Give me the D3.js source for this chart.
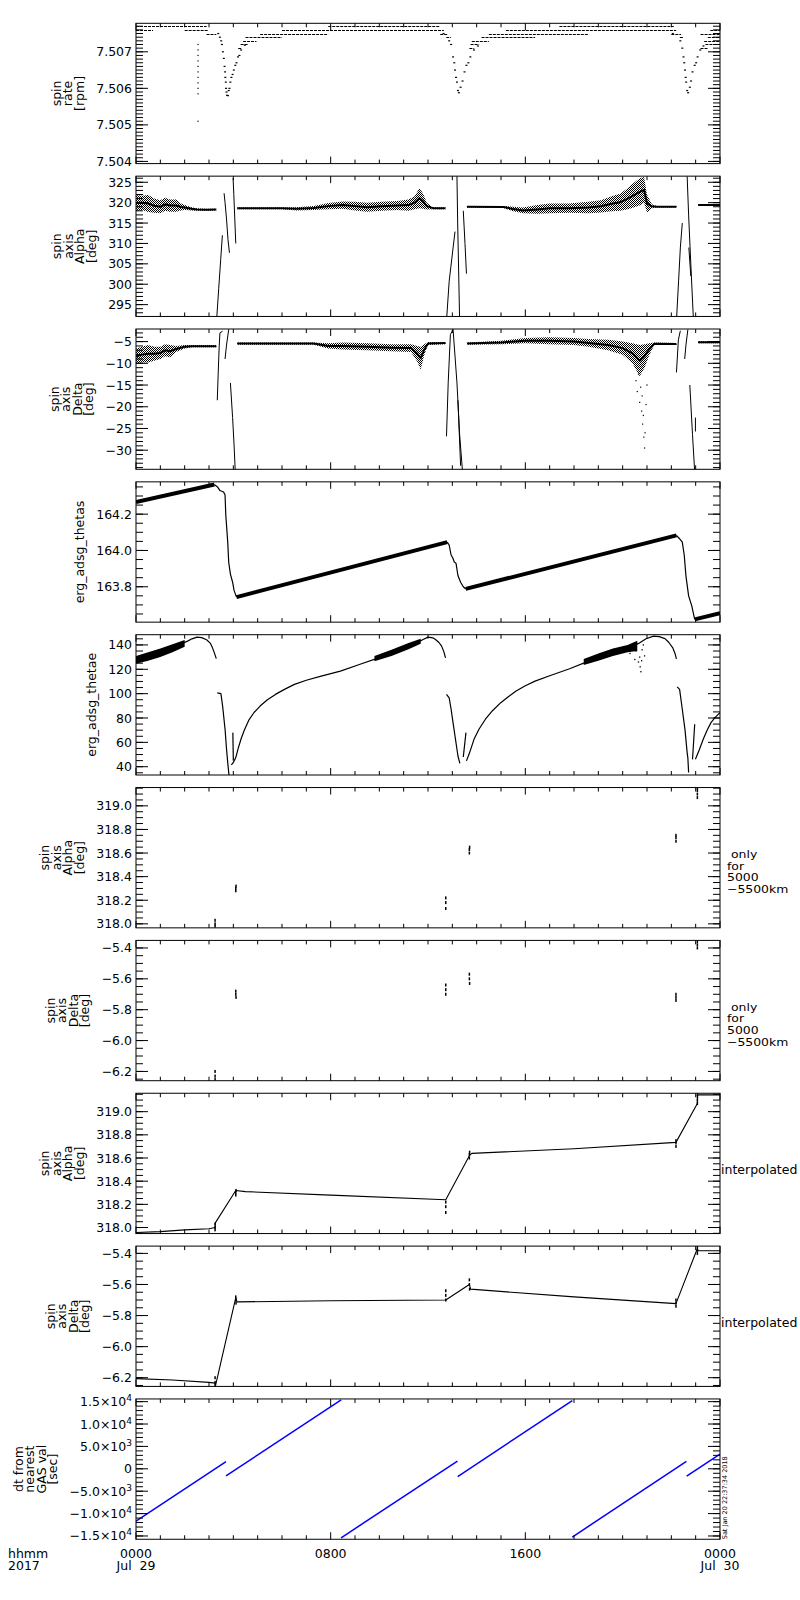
<!DOCTYPE html>
<html>
<head>
<meta charset="utf-8">
<script src="https://cdn.jsdelivr.net/npm/d3@7"></script>
<style>
body { margin: 0; background: #fff; }
text { font-family: "DejaVu Sans", sans-serif; font-size: 12.5px; fill: #000; }
</style>
</head>
<body>
<div id="chart"></div>
<script>
// ---- axis text ----
const labelHours = [0, 8, 16, 24];
const timeLabels = ["0000", "0800", "1600", "0000"];
const dateLabels = ["Jul\u00a0\u00a029", "", "", "Jul\u00a0\u00a030"];

const panelTitles = [
	["spin", "rate", "[rpm]"],
	["spin", "axis", "Alpha", "[deg]"],
	["spin", "axis", "Delta", "[deg]"],
	["erg_adsg_thetas"],
	["erg_adsg_thetae"],
	["spin", "axis", "Alpha", "[deg]"],
	["spin", "axis", "Delta", "[deg]"],
	["spin", "axis", "Alpha", "[deg]"],
	["spin", "axis", "Delta", "[deg]"],
	["dt from", "nearest", "GAS val", "[sec]"],
];
const yDomains = [
	[7.50394, 7.50778], [292.1, 326.5], [-34.4, -2.1], [163.605, 164.378], [33.2, 148.4],
	[317.966, 319.155], [-6.26, -5.351], [317.948, 319.159], [-6.256, -5.353], [-15730, 15600],
];
const yMajor = [0.001, 5, 5, 0.2, 20, 0.2, 0.2, 0.2, 0.2, 5000];
const yMinor = [0.0001, 1, 1, 0.05, 5, 0.05, 0.05, 0.05, 0.05, 1000];
const yFormats = [".3f", "d", "d", ".1f", "d", ".1f", ".1f", ".1f", ".1f", "exp"];
const onlyNote = ["\u00a0only", "for", "5000", "\u22125500km"];
const interpNote = "interpolated";
const stamp = "Sat Jan 20 22:37:34 2018";

// ---- spin rate [rpm] : quantised rows [t0, t1, value] ----
const rateLevels = [
	[0, 2.9, 7.5077], [7.9, 12.5, 7.5077], [17.4, 22.1, 7.5077],
	[0, 0.7, 7.5076], [2.0, 2.95, 7.5076], [6.0, 12.65, 7.5076], [15.2, 22.2, 7.5076], [23.6, 24, 7.5076],
	[2.9, 3.3, 7.5075], [5.1, 7.9, 7.5075], [12.5, 12.8, 7.5075], [14.5, 18.6, 7.5075], [22.0, 22.4, 7.5075], [23.2, 24, 7.5075],
	[4.5, 6.0, 7.5074], [12.75, 12.95, 7.5074], [14.2, 16.4, 7.5074], [22.35, 22.5, 7.5074], [23.5, 24, 7.5074],
	[4.4, 4.95, 7.5073], [13.8, 14.5, 7.5073], [23.35, 24, 7.5073],
	[4.3, 4.6, 7.5072], [13.75, 14.1, 7.5072], [23.4, 24, 7.5072],
	[4.2, 4.35, 7.5071], [13.7, 13.9, 7.5071], [23.2, 23.5, 7.5071],
];
const rateColumn = [
	[2.55, 7.5072], [2.55, 7.50705], [2.55, 7.5069], [2.55, 7.50675], [2.55, 7.5066], [2.55, 7.50645],
	[2.55, 7.5063], [2.55, 7.50615], [2.55, 7.506], [2.55, 7.50585], [2.55, 7.5051],
];
const rateDips = [
	[3.38, 7.5075], [3.45, 7.5074], [3.5, 7.5073], [3.53, 7.5072], [3.57, 7.507], [3.61, 7.50682], [3.64, 7.5066],
	[3.66, 7.50645], [3.67, 7.5063], [3.69, 7.50617], [3.7, 7.506], [3.72, 7.5059], [3.74, 7.50581],
	[3.78, 7.5058], [3.81, 7.50594], [3.84, 7.506], [3.88, 7.50617], [3.92, 7.5063], [3.97, 7.50638],
	[4.02, 7.5065], [4.08, 7.50663], [4.13, 7.5067], [4.19, 7.50686], [4.25, 7.5069], [4.32, 7.50705], [4.47, 7.50718],
	[12.64, 7.5075], [12.87, 7.5073], [12.95, 7.5072], [13.03, 7.50686], [13.08, 7.5067], [13.11, 7.5065],
	[13.15, 7.5063], [13.19, 7.50617], [13.23, 7.50594], [13.27, 7.50588], [13.34, 7.50603], [13.42, 7.5062],
	[13.5, 7.50645], [13.58, 7.50663], [13.66, 7.5067], [13.74, 7.50686], [13.89, 7.50705], [14.05, 7.50716],
	[22.06, 7.5075], [22.37, 7.5073], [22.45, 7.5071], [22.5, 7.50686], [22.53, 7.5067], [22.56, 7.5065],
	[22.59, 7.5063], [22.61, 7.50617], [22.65, 7.50594], [22.69, 7.50588], [22.76, 7.50603], [22.81, 7.5062],
	[22.87, 7.50645], [22.96, 7.50663], [23.02, 7.5067], [23.08, 7.50686], [23.19, 7.50705], [23.32, 7.50716],
];

// ---- spin axis Alpha [deg] : scatter envelopes [t, low, high] and flip tracks ----
const alphaBands = [
	[[0, 317.9, 321.9], [0.25, 318.2, 321.7], [0.5, 317.7, 321.9], [0.75, 317.5, 321], [1.0, 317.4, 320.6],
	 [1.2, 318, 321.2], [1.4, 317.8, 320.8], [1.65, 317.8, 320.8], [1.85, 318.1, 319.8], [2.0, 318.2, 319.4],
	 [2.28, 318.1, 318.9], [2.5, 318.0, 318.6], [2.9, 318.0, 318.5], [3.3, 318.1, 318.5]],
	[[4.16, 318.4, 318.8], [6.0, 318.4, 318.8], [6.6, 318.1, 318.9], [7.3, 318.2, 319.2], [7.9, 318.4, 319.9],
	 [8.5, 318.5, 320.3], [9.0, 318.1, 320.2], [9.5, 317.8, 320.0], [10.1, 318.0, 320.2], [10.75, 318.2, 320.4],
	 [11.2, 318.0, 320.8], [11.45, 318.4, 321.6], [11.65, 318.6, 323.6], [11.8, 318.5, 322.2], [11.95, 318.3, 320.0],
	 [12.2, 318.4, 318.9], [12.72, 318.4, 318.8]],
	[[13.6, 318.8, 319.2], [15.1, 318.7, 319.2], [15.5, 317.9, 319.0], [15.9, 317.4, 318.8], [16.5, 317.3, 319.4],
	 [17.0, 317.4, 319.8], [17.8, 317.5, 319.8], [18.6, 317.4, 320.2], [19.1, 317.6, 320.6], [19.55, 317.9, 321.6],
	 [19.9, 318.0, 322.2], [20.17, 318.3, 323.4], [20.45, 318.8, 324.8], [20.7, 319.3, 326.0], [20.88, 320.0, 326.3],
	 [21.0, 317.6, 322], [21.2, 318.6, 319.6], [21.4, 318.8, 319.2], [22.21, 318.8, 319.2]],
	[[23.1, 319.2, 319.6], [24, 319.2, 319.6]],
];
const alphaFlips = [
	[[3.31, 291], [3.4, 299], [3.48, 306], [3.55, 312]],
	[[3.62, 322.3], [3.66, 320], [3.72, 316], [3.78, 311], [3.84, 307.7]],
	[[3.99, 326], [4.02, 322], [4.06, 316], [4.1, 310]],
	[[12.76, 291], [12.87, 300.7], [13.03, 308.9], [13.11, 312.9]],
	[[13.19, 326.5], [13.22, 315], [13.26, 303], [13.3, 291]],
	[[13.45, 318], [13.52, 310], [13.58, 302.6]],
	[[22.21, 291], [22.3, 301], [22.37, 308.9], [22.45, 315]],
	[[22.65, 326.5], [22.71, 317], [22.8, 305], [22.91, 291]],
	[[22.72, 309], [22.8, 302]],
];

// ---- spin axis Delta [deg] ----
const deltaBands = [
	[[0, -10.2, -6.6], [0.25, -9.8, -6.2], [0.5, -9.8, -5.8], [0.75, -9.4, -6.2], [1.0, -9.0, -6.2],
	 [1.2, -8.4, -5.6], [1.4, -8.6, -5.8], [1.65, -7.4, -6.0], [2.0, -6.6, -5.8], [2.3, -6.3, -5.8], [3.3, -6.3, -5.8]],
	[[4.16, -5.7, -5.2], [7.3, -5.7, -5.2], [7.9, -6.6, -5.4], [8.5, -6.8, -5.2], [9.5, -7.0, -5.4],
	 [10.5, -7.2, -5.6], [11.3, -7.4, -5.6], [11.55, -9.5, -6.0], [11.7, -11.4, -6.2], [11.85, -8.0, -5.6],
	 [12.0, -5.8, -5.1], [12.72, -5.6, -5.1]],
	[[13.6, -5.7, -5.2], [15.0, -5.6, -4.8], [16.0, -5.4, -4.2], [17.0, -5.6, -4.0], [18.0, -5.8, -4.2],
	 [18.6, -6.2, -4.4], [19.4, -7.0, -4.6], [20.0, -8.0, -5.0], [20.4, -10, -5.4], [20.7, -13, -5.8],
	 [20.9, -11, -5.6], [21.1, -8, -5.4], [21.3, -5.8, -5.2], [22.21, -5.8, -5.3]],
	[[23.1, -5.4, -4.9], [24, -5.4, -4.9]],
];
const deltaScatter = [
	[20.55, -14], [20.6, -16.5], [20.65, -12.5], [20.7, -19], [20.74, -15.5], [20.78, -21], [20.8, -17.5],
	[20.82, -24], [20.85, -22], [20.87, -27], [20.9, -29.5], [20.92, -26], [20.96, -19.5], [21.0, -15],
];
const deltaFlips = [
	[[3.34, -18.5], [3.38, -12], [3.42, -6], [3.45, -3.0], [3.56, -2.6]],
	[[3.81, -2.2], [3.72, -5.8], [3.66, -9.0]],
	[[3.88, -14.5], [3.97, -22.5], [4.03, -28.8], [4.08, -35]],
	[[12.76, -26.8], [12.83, -14.5], [12.92, -3.4], [13.03, -2.2]],
	[[13.03, -2.2], [13.19, -14.5], [13.3, -26.4], [13.42, -35]],
	[[13.23, -18.5], [13.34, -33.6]],
	[[22.21, -12.1], [22.29, -4.6], [22.37, -2.5]],
	[[22.68, -2.2], [22.6, -5.8], [22.55, -9.0]],
	[[22.76, -15], [22.87, -26.4], [22.96, -35]],
	[[22.99, -22.5], [22.99, -25.7]],
];

// ---- erg_adsg_thetas ----
const thetasRamps = [
	[[0, 164.267], [3.22, 164.363]],
	[[4.13, 163.743], [12.79, 164.046]],
	[[13.55, 163.788], [22.21, 164.083]],
	[[22.96, 163.62], [24, 163.655]],
];
const thetasFalls = [
	[[3.22, 164.363], [3.35, 164.35], [3.45, 164.33], [3.6, 164.322], [3.66, 164.305], [3.69, 164.195],
	 [3.77, 164.046], [3.81, 163.935], [3.88, 163.87], [3.97, 163.825], [4.03, 163.78], [4.13, 163.743]],
	[[12.79, 164.046], [12.87, 164.03], [12.95, 163.975], [13.02, 163.958], [13.08, 163.936], [13.15, 163.93],
	 [13.23, 163.862], [13.34, 163.825], [13.45, 163.8], [13.55, 163.788]],
	[[22.21, 164.083], [22.3, 164.07], [22.37, 164.06], [22.45, 164.046], [22.53, 163.975], [22.6, 163.86],
	 [22.71, 163.75], [22.84, 163.695], [22.96, 163.62]],
];

// ---- erg_adsg_thetae ----
const thetaeArcs = [
	[[0, 128], [0.5, 130.5], [1.0, 133.5], [1.33, 136.2], [1.7, 139.5], [2.12, 143.1], [2.3, 145], [2.51, 146.4],
	 [2.7, 146], [2.9, 144.3], [3.05, 141.5], [3.14, 137.8], [3.22, 133.5], [3.3, 128.8]],
	[[3.34, 100.7], [3.49, 100], [3.56, 89.8], [3.66, 70.8], [3.72, 54.5], [3.77, 43.4], [3.81, 35.2], [3.83, 32]],
	[[3.98, 68], [4.0, 45]],
	[[3.92, 41.5], [4.0, 43.5], [4.1, 47.5], [4.2, 55], [4.32, 63], [4.45, 70], [4.63, 78], [4.85, 84.5],
	 [5.1, 89.8], [5.4, 95], [5.73, 99.4], [6.1, 103.5], [6.51, 107.6], [7.0, 111], [7.61, 114.4], [8.4, 118.5],
	 [9.18, 123.9], [9.97, 129.4], [10.75, 134.9], [11.54, 141.7], [11.8, 144.5], [12.0, 146.4], [12.2, 145.8],
	 [12.32, 144.3], [12.45, 142], [12.56, 139], [12.65, 134.5], [12.72, 129.4]],
	[[12.76, 99.4], [12.87, 96.6], [12.95, 87.2], [13.03, 76], [13.11, 65.2], [13.23, 48.8], [13.31, 42.8]],
	[[13.45, 48], [13.56, 68]],
	[[13.58, 44.8], [13.7, 51], [13.89, 62.5], [14.1, 71], [14.36, 79], [14.65, 86], [14.99, 92.6], [15.3, 97.5],
	 [15.62, 102.1], [16.0, 106.5], [16.4, 110.3], [17.03, 114.9], [17.82, 120.4], [18.6, 126.7], [19.39, 132.2],
	 [20.17, 137.6], [20.64, 141], [20.96, 145.1], [21.27, 147.2], [21.5, 146.8], [21.74, 145.2], [21.9, 142],
	 [22.06, 137.6], [22.15, 133], [22.21, 128.6]],
	[[22.24, 105.6], [22.34, 103.5], [22.45, 87.2], [22.56, 70.7], [22.65, 51.6], [22.68, 47], [22.71, 35.2]],
	[[22.87, 46], [22.96, 74.8]],
	[[22.99, 46.1], [23.15, 54], [23.31, 62.5], [23.47, 70], [23.63, 76.2], [23.8, 80.5], [24, 84.3]],
];
const thetaeBands = [
	[[0, 124.5, 131], [0.5, 127, 134], [1.0, 130, 137], [1.5, 134, 140.5], [2.0, 138.5, 144]],
	[[9.8, 126.5, 131], [10.5, 131, 136], [11.2, 136.5, 141.5], [11.7, 141, 145]],
	[[18.4, 123.5, 128.5], [19.0, 127, 133], [19.6, 131, 137], [20.2, 134, 140], [20.6, 135, 143.5]],
];
const thetaeScatter = [
	[20.3, 133], [20.4, 139], [20.5, 128], [20.55, 135], [20.6, 141], [20.65, 126], [20.7, 130],
	[20.72, 122], [20.75, 118], [20.78, 127], [20.8, 136], [20.85, 140], [20.9, 131],
];

// ---- 5000-5500 km samples and interpolated tracks ----
const alphaOnly = [
	[3.25, 317.98], [3.25, 318.0], [3.25, 318.03], [4.1, 318.28], [4.1, 318.3], [4.11, 318.32],
	[12.73, 318.13], [12.73, 318.18], [12.73, 318.22], [13.7, 318.6], [13.7, 318.63], [13.71, 318.65],
	[22.19, 318.7], [22.19, 318.73], [22.19, 318.75], [23.07, 319.07], [23.07, 319.1], [23.07, 319.13], [23.07, 319.15],
];
const deltaOnly = [
	[3.25, -6.2], [3.25, -6.23], [3.25, -6.25], [4.1, -5.68], [4.1, -5.7], [4.11, -5.72],
	[12.73, -5.64], [12.73, -5.67], [12.73, -5.7], [13.7, -5.57], [13.7, -5.6], [13.71, -5.63],
	[22.19, -5.7], [22.19, -5.72], [22.19, -5.74], [23.07, -5.36], [23.07, -5.38], [23.07, -5.4],
];
const alphaInterp = [
	[0, 317.957], [1.0, 317.965], [2.0, 317.98], [3.0, 317.99], [3.25, 318.0], [3.26, 318.04], [4.1, 318.32],
	[4.5, 318.31], [8.0, 318.28], [12.73, 318.24], [13.7, 318.62], [13.8, 318.64], [18.0, 318.68],
	[22.19, 318.735], [23.07, 319.07], [23.08, 319.145], [24, 319.145],
];
const deltaInterp = [
	[0, -6.206], [1.5, -6.215], [3.0, -6.23], [3.25, -6.235], [3.27, -6.25], [4.1, -5.684], [4.15, -5.712],
	[8.0, -5.705], [12.73, -5.7], [13.7, -5.6], [13.75, -5.63], [18.0, -5.68], [22.19, -5.723],
	[23.07, -5.368], [23.1, -5.383], [24, -5.383],
];

// ---- dt from nearest GAS val [sec] : straight runs ----
const dtStart = [[0, -11700], [3.70, -1590], [8.43, -15400], [13.22, -1730], [17.93, -15230], [22.63, -1650]];
const dtEnd = [[3.70, 1620], [8.43, 15400], [13.21, 1730], [17.93, 15230], [22.62, 1650], [24, 3300]];

// ---------------------------------------------------------------
const width = 800;
const height = 1600;
const left = 136;
const right = 720;
const firstTop = 23.3;
const pitch = 152.85;
const panelH = 140.3;

const x = d3.scaleLinear().domain([0, 24]).range([left, right]);

const svg = d3.select("#chart")
	.append("svg")
	.attr("width", width)
	.attr("height", height)
	.attr("viewBox", `0 0 ${width} ${height}`);

svg.append("rect").attr("width", width).attr("height", height).attr("fill", "#fff");

const defs = svg.append("defs");
// dense checker speckle for scattered-sample clouds
defs.append("pattern")
	.attr("id", "speck")
	.attr("width", 2)
	.attr("height", 2)
	.attr("patternUnits", "userSpaceOnUse")
	.selectAll("rect")
	.data([[0, 0], [1, 1]])
	.join("rect")
	.attr("x", (d) => d[0])
	.attr("y", (d) => d[1])
	.attr("width", 1)
	.attr("height", 1)
	.attr("fill", "#000");

function stepTicks(dom, step) {
	const out = [];
	const k0 = Math.ceil(dom[0] / step - 1e-6);
	const k1 = Math.floor(dom[1] / step + 1e-6);
	for (let k = k0; k <= k1; k++) out.push(+(k * step).toPrecision(10));
	return out;
}

// draw helpers
function track(g, y, pts, w, color = "#000") {
	g.append("path")
		.datum(pts)
		.attr("fill", "none")
		.attr("stroke", color)
		.attr("stroke-width", w)
		.attr("stroke-linejoin", "round")
		.attr("d", d3.line().x((d) => x(d[0])).y((d) => y(d[1])));
}

function envelope(g, y, rows, fill) {
	g.append("path")
		.datum(rows)
		.attr("fill", fill)
		.attr("stroke", "none")
		.attr("d", d3.area().x((d) => x(d[0])).y0((d) => y(d[1])).y1((d) => y(d[2])));
}

function specks(g, y, pts, w, h) {
	g.selectAll(null)
		.data(pts)
		.enter()
		.append("rect")
		.attr("x", (d) => x(d[0]) - w / 2)
		.attr("y", (d) => y(d[1]) - h / 2)
		.attr("width", w)
		.attr("height", h)
		.attr("fill", "#000");
}

function noisyBand(g, y, rows) {
	envelope(g, y, rows, "url(#speck)");
	track(g, y, rows.map((r) => [r[0], (r[1] + r[2]) / 2]), 2);
}

const drawers = [
	(g, y) => {
		g.selectAll(null)
			.data(rateLevels)
			.enter()
			.append("line")
			.attr("x1", (d) => x(d[0]))
			.attr("x2", (d) => x(d[1]))
			.attr("y1", (d) => Math.round(y(d[2])) + 0.5)
			.attr("y2", (d) => Math.round(y(d[2])) + 0.5)
			.attr("stroke", "#000")
			.attr("stroke-width", 1)
			.attr("stroke-dasharray", "3 1");
		specks(g, y, rateColumn, 1.2, 1.2);
		specks(g, y, rateDips, 2, 1.2);
	},
	(g, y) => {
		alphaBands.forEach((b) => noisyBand(g, y, b));
		alphaFlips.forEach((f) => track(g, y, f, 1));
	},
	(g, y) => {
		deltaBands.forEach((b) => noisyBand(g, y, b));
		deltaFlips.forEach((f) => track(g, y, f, 1));
		specks(g, y, deltaScatter, 1.2, 1.2);
	},
	(g, y) => {
		thetasRamps.forEach((r) => track(g, y, r, 4));
		thetasFalls.forEach((f) => track(g, y, f, 1.2));
	},
	(g, y) => {
		thetaeBands.forEach((b) => envelope(g, y, b, "#000"));
		thetaeArcs.forEach((a) => track(g, y, a, 1.2));
		specks(g, y, thetaeScatter, 1.3, 1.3);
	},
	(g, y) => specks(g, y, alphaOnly, 1.5, 3),
	(g, y) => specks(g, y, deltaOnly, 1.5, 3),
	(g, y) => {
		track(g, y, alphaInterp, 1.1);
		specks(g, y, alphaOnly, 1.5, 3);
	},
	(g, y) => {
		track(g, y, deltaInterp, 1.1);
		specks(g, y, deltaOnly, 1.5, 3);
	},
	(g, y) => {
		dtStart.forEach((s, i) => track(g, y, [s, dtEnd[i]], 1.5, "#0000ff"));
	},
];

function writeExp(textSel, v) {
	if (v === 0) {
		textSel.text("0");
		return;
	}
	const e = Math.floor(Math.log10(Math.abs(v)));
	const m = v / Math.pow(10, e);
	textSel.text(d3.format(".1f")(m) + "\u00d710");
	textSel.append("tspan").attr("font-size", "9px").attr("dy", "-5").text(e);
}

panelTitles.forEach((title, i) => {
	const top = firstTop + i * pitch;
	const bottom = top + panelH;
	const y = d3.scaleLinear().domain(yDomains[i]).range([bottom, top]);
	const g = svg.append("g").attr("class", "panel");

	defs.append("clipPath")
		.attr("id", `clip${i}`)
		.append("rect")
		.attr("x", left)
		.attr("y", top)
		.attr("width", right - left)
		.attr("height", panelH);

	const plot = g.append("g").attr("clip-path", `url(#clip${i})`);
	drawers[i](plot, y);

	// frame
	g.append("rect")
		.attr("x", left)
		.attr("y", top)
		.attr("width", right - left)
		.attr("height", panelH)
		.attr("fill", "none")
		.attr("stroke", "#000")
		.attr("stroke-width", 1);

	const ticks = g.append("g").attr("stroke", "#000").attr("stroke-width", 1);

	// hourly time ticks, top and bottom
	d3.range(0, 25).forEach((h) => {
		const len = h % 8 === 0 ? 7 : 4;
		ticks.append("line").attr("x1", x(h)).attr("x2", x(h)).attr("y1", top).attr("y2", top + len);
		ticks.append("line").attr("x1", x(h)).attr("x2", x(h)).attr("y1", bottom).attr("y2", bottom - len);
	});

	// value ticks, left and right
	const majors = stepTicks(yDomains[i], yMajor[i]);
	const minors = stepTicks(yDomains[i], yMinor[i]);
	minors.forEach((v) => {
		const yy = y(v);
		ticks.append("line").attr("x1", left).attr("x2", left + 7).attr("y1", yy).attr("y2", yy);
		ticks.append("line").attr("x1", right).attr("x2", right - 7).attr("y1", yy).attr("y2", yy);
	});
	majors.forEach((v) => {
		const yy = y(v);
		ticks.append("line").attr("x1", left).attr("x2", left + 12).attr("y1", yy).attr("y2", yy);
		ticks.append("line").attr("x1", right).attr("x2", right - 12).attr("y1", yy).attr("y2", yy);
	});

	const labels = g.append("g");
	majors.forEach((v) => {
		const t = labels.append("text")
			.attr("x", left - 4)
			.attr("y", y(v))
			.attr("dy", "0.36em")
			.attr("text-anchor", "end");
		if (yFormats[i] === "exp") writeExp(t, v);
		else t.text(d3.format(yFormats[i])(v));
	});

	// axis title, rotated, lines stacked left to right
	const tickLeft = labels.node().getBBox().x;
	const cy = (top + bottom) / 2;
	const lastBase = tickLeft - 12.5;
	title.forEach((line, j) => {
		const bx = lastBase - (title.length - 1 - j) * 11.5;
		g.append("text")
			.attr("transform", `translate(${bx},${cy}) rotate(-90)`)
			.attr("text-anchor", "middle")
			.text(line);
	});

	// side notes: short glyphs stretched sideways so stacked lines stay clear
	if (i === 5 || i === 6) {
		onlyNote.forEach((line, j) => {
			g.append("text")
				.attr("transform", `translate(727,${cy + j * 11.8}) scale(1.22,1)`)
				.style("font-size", "10.2px")
				.text(line);
		});
	}
	if (i === 7 || i === 8) {
		g.append("text").attr("x", 721).attr("y", cy + 11).text(interpNote);
	}
	if (i === 9) {
		g.append("text")
			.attr("transform", `translate(727,${bottom}) rotate(-90)`)
			.style("font-size", "6.5px")
			.text(stamp);
	}
});

// time labels under the last panel
labelHours.forEach((h, k) => {
	svg.append("text").attr("x", x(h)).attr("y", 1557.5).attr("text-anchor", "middle").text(timeLabels[k]);
	if (dateLabels[k]) {
		svg.append("text").attr("x", x(h)).attr("y", 1569.5).attr("text-anchor", "middle").text(dateLabels[k]);
	}
});
svg.append("text").attr("x", 8).attr("y", 1557.5).text("hhmm");
svg.append("text").attr("x", 8).attr("y", 1569.5).text("2017");
</script>
</body>
</html>
